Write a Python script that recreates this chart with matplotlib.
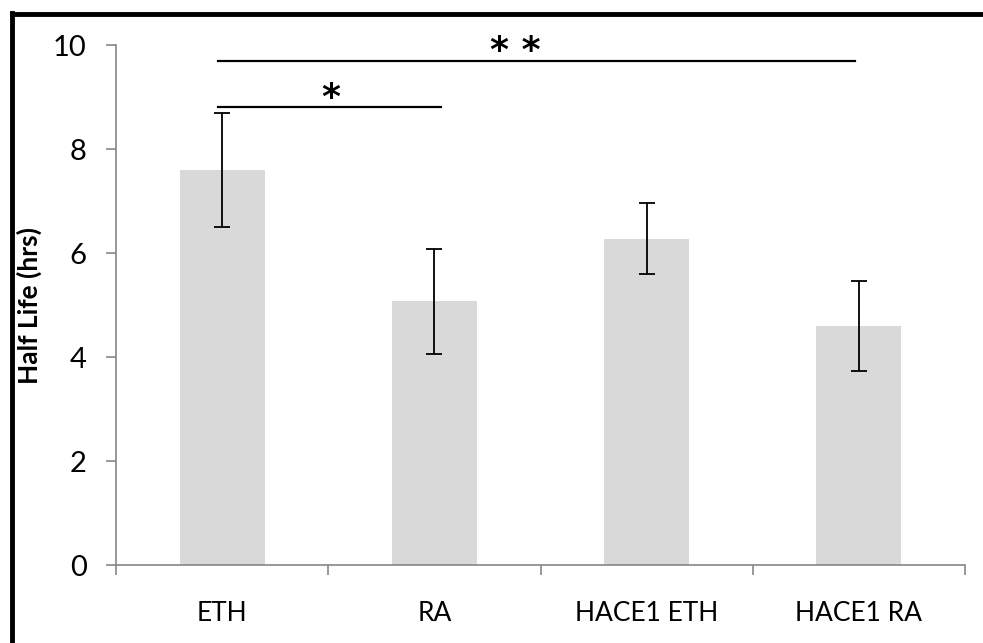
import matplotlib
matplotlib.use('Agg')
import matplotlib.pyplot as plt
from matplotlib.lines import Line2D
import numpy as np

plt.rcParams['font.family'] = ['Lato', 'DejaVu Sans']

groups = ['ETH', 'RA', 'HACE1 ETH', 'HACE1 RA']
half_life = [7.6, 5.07, 6.28, 4.6]
err = [1.09, 1.01, 0.69, 0.86]
yticks = [0, 2, 4, 6, 8, 10]

# significance brackets: (line start, line end, y, label, label x)
sig = [(-0.02, 1.03, 8.8, '*', 0.51), (-0.02, 2.98, 9.7, '* *', 1.38)]

fig = plt.figure(figsize=(9.83, 6.43), dpi=100)
ax = fig.add_axes([0.118, 0.121, 0.8637, 0.809])

x = np.arange(len(groups))
ax.bar(x, half_life, width=0.4, color='#d9d9d9', zorder=1)
ax.errorbar(x, half_life, yerr=err, fmt='none', ecolor='black',
            elinewidth=1.3, capsize=5.5, capthick=1.3, zorder=2)

ax.set_xlim(-0.5, len(groups) - 0.5)
ax.set_ylim(0, 10)
ax.set_yticks(yticks)
ax.set_yticklabels([str(v) for v in yticks], fontsize=21)
ax.set_xticks(x)
ax.set_xticklabels(groups, fontsize=19)
ax.set_xticks(np.arange(len(groups) + 1) - 0.5, minor=True)
ax.tick_params(axis='x', which='major', length=0, pad=26)
ax.tick_params(axis='x', which='minor', length=7, width=1.2, color='#868686', direction='out')
ax.tick_params(axis='y', length=7, width=1.2, color='#868686', direction='out', pad=14)

for side in ['top', 'right']:
    ax.spines[side].set_visible(False)
for side in ['left', 'bottom']:
    ax.spines[side].set_color('#868686')
    ax.spines[side].set_linewidth(1.2)

ax.set_ylabel('Half Life (hrs)', fontsize=19, fontweight='bold', labelpad=8)

for a, b, y, lab, lx in sig:
    ax.plot([a, b], [y, y], color='black', lw=1.6, clip_on=False)
    ax.text(lx, y - 0.15, lab, ha='center', va='bottom',
            fontsize=26, fontweight='bold', family='DejaVu Sans')

# black frame (left and top only visible)
fig.add_artist(Line2D([0.0117, 0.0117], [0.0, 0.98], color='black', lw=3.5,
                      transform=fig.transFigure))
fig.add_artist(Line2D([0.0117, 1.0], [0.979, 0.979], color='black', lw=3.5,
                      transform=fig.transFigure))

fig.savefig('out.png', dpi=100)
